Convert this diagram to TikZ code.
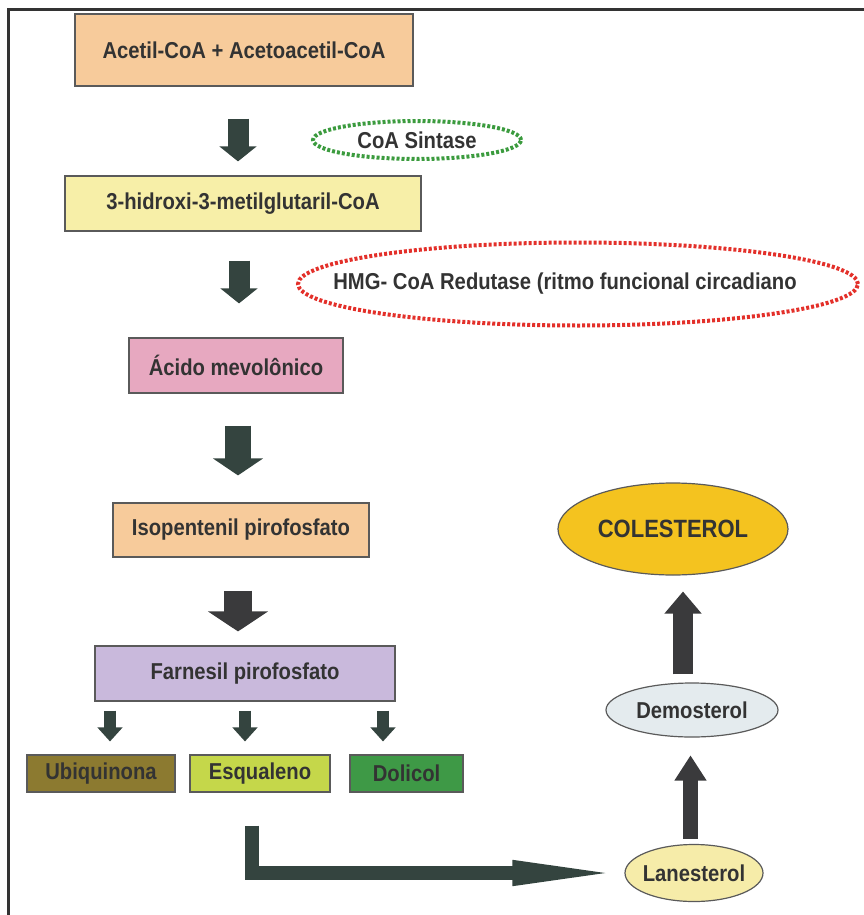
\documentclass[tikz,border=0pt]{standalone}
\usepackage{fontspec}
\setmainfont{Liberation Sans}[FakeStretch=0.88]
\usepackage{tikz}
\usetikzlibrary{
  arrows.meta,
  shapes.geometric,
  positioning,
  calc
}
\definecolor{cpPeach}{HTML}{F7CB9B}
\definecolor{cpButter}{HTML}{F7EFA8}
\definecolor{cpPink}{HTML}{E7A8C0}
\definecolor{cpLilac}{HTML}{C9B9DC}
\definecolor{cpOlive}{HTML}{8C7A30}
\definecolor{cpLime}{HTML}{C5D74A}
\definecolor{cpGreen}{HTML}{3E9946}
\definecolor{cpGold}{HTML}{F4C31F}
\definecolor{cpMist}{HTML}{E4EBEE}
\definecolor{cpCream}{HTML}{F6ECA9}
\definecolor{cpArrow}{HTML}{34443F}
\definecolor{cpArrowGray}{HTML}{3A3A3C}
\definecolor{cpLine}{HTML}{5A5A5A}
\definecolor{cpText}{HTML}{333333}
\definecolor{cpEnzGreen}{HTML}{3B9B3E}
\definecolor{cpEnzRed}{HTML}{E3302A}
\newcommand{\cpfont}{\fontsize{23}{26}\selectfont\bfseries}
\tikzset{
  cpnode/.style={draw=cpLine, line width=1.2pt, font=\cpfont, text=cpText, inner sep=0pt},
  cpbox/.style={cpnode, rectangle},
  sterol/.style={cpnode, ellipse},
  cplabel/.style={font=\cpfont, text=cpText},
  enzyme/.style={ellipse, line width=4pt, dash pattern=on 3pt off 2pt, font=\cpfont, text=cpText, inner sep=0pt},
  stepdown/.style={line width=21pt, draw=cpArrow, -{Triangle[width=37pt, length=15pt, line width=1.5pt]}},
  bigdown/.style={line width=26pt, draw=cpArrow, -{Triangle[width=50pt, length=17pt, line width=1.5pt]}},
  graydown/.style={line width=28pt, draw=cpArrowGray, -{Triangle[width=60pt, length=20pt, line width=1.5pt]}},
  branch/.style={line width=12pt, draw=cpArrow, -{Triangle[width=25pt, length=14pt, line width=1.5pt]}, shorten <=9pt, shorten >=13pt},
  bendarrow/.style={line width=14pt, draw=cpArrow, line join=miter, -{Triangle[width=26pt, length=93pt, line width=1.5pt]}},
  sterolup/.style={draw=cpArrowGray}
}
\begin{document}
\begin{tikzpicture}[x=1pt, y=-1pt]
  \useasboundingbox (0,0) rectangle (864,915);
  \draw[line width=3pt, draw=cpText] (8,915) -- (8,10) -- (864,10);

  \node[cpbox, fill=cpPeach, minimum width=338pt, minimum height=72pt] (acetil) at (244,50) {Acetil-CoA + Acetoacetil-CoA};
  \node[cpbox, fill=cpButter, minimum width=356pt, minimum height=55pt] (hmgcoa) at (243,203.5) {3-hidroxi-3-metilglutaril-CoA};
  \node[cpbox, fill=cpPink, minimum width=214pt, minimum height=55pt] (mevalo) at (236,365.5) {Ácido mevolônico};
  \node[cpbox, fill=cpPeach, minimum width=256pt, minimum height=54pt] (isopent) at (241,530) {Isopentenil pirofosfato};
  \node[cpbox, fill=cpLilac, minimum width=300pt, minimum height=55pt] (farnesil) at (245,673.5) {Farnesil pirofosfato};
  \node[cpbox, fill=cpOlive, minimum width=148pt, minimum height=37pt] (ubiq) at (101,773.5) {Ubiquinona};
  \node[cpbox, fill=cpLime, minimum width=140pt, minimum height=37pt] (esqual) at (260,773.5) {Esqualeno};
  \node[cpbox, fill=cpGreen, minimum width=113pt, minimum height=37pt] (dolicol) at (406.5,773.5) {Dolicol};

  \node[enzyme, draw=cpEnzGreen, minimum width=208pt, minimum height=38pt] (sintase) at (417,140) {CoA Sintase};
  \node[enzyme, draw=cpEnzRed, minimum width=560pt, minimum height=83pt,
    label={[cplabel, xshift=-13pt]center:HMG- CoA Redutase (ritmo funcional circadiano}] (redutase) at (578,284) {};

  \node[sterol, fill=cpGold, minimum width=230pt, minimum height=92pt, font=\cpfont\fontsize{25}{28}\selectfont] (colest) at (673,529) {COLESTEROL};
  \node[sterol, fill=cpMist, minimum width=172pt, minimum height=54pt] (demost) at (692,710) {Demosterol};
  \node[sterol, fill=cpCream, minimum width=138pt, minimum height=57pt, label={[cplabel]center:Lanesterol}] (lanest) at (694,873) {};

  \draw[stepdown, shorten <=32pt, shorten >=14pt] ([xshift=-6pt]acetil.south) -- ([xshift=-5pt]hmgcoa.north);
  \draw[stepdown, shorten <=29pt, shorten >=34pt] ([xshift=-4pt]hmgcoa.south) -- ([xshift=3pt]mevalo.north);
  \draw[bigdown, shorten <=32pt, shorten >=27pt] ([xshift=2pt]mevalo.south) -- ([xshift=-3pt]isopent.north);
  \draw[graydown, shorten <=33pt, shorten >=14pt] ([xshift=-3pt]isopent.south) -- ([xshift=-7pt]farnesil.north);

  \draw[branch] ([xshift=9pt]farnesil.south -| ubiq.north) -- ([xshift=9pt]ubiq.north);
  \draw[branch] ([xshift=-15pt]farnesil.south -| esqual.north) -- ([xshift=-15pt]esqual.north);
  \draw[branch] ([xshift=-23.5pt]farnesil.south -| dolicol.north) -- ([xshift=-23.5pt]dolicol.north);

  \draw[bendarrow, shorten <=33pt, shorten >=19pt] ([xshift=-8pt]esqual.south) |- (lanest.west);

  \draw[sterolup, line width=15pt, -{Triangle[width=32pt, length=25pt, line width=1.5pt]}, shorten <=5pt, shorten >=18pt] ([xshift=-3.5pt]lanest.north) -- ([xshift=-1.5pt]demost.south);
  \draw[sterolup, line width=20pt, -{Triangle[width=37pt, length=22pt, line width=1.5pt]}, shorten <=8pt, shorten >=16pt] ([xshift=-9pt]demost.north) -- ([xshift=10pt]colest.south);
\end{tikzpicture}
\end{document}
